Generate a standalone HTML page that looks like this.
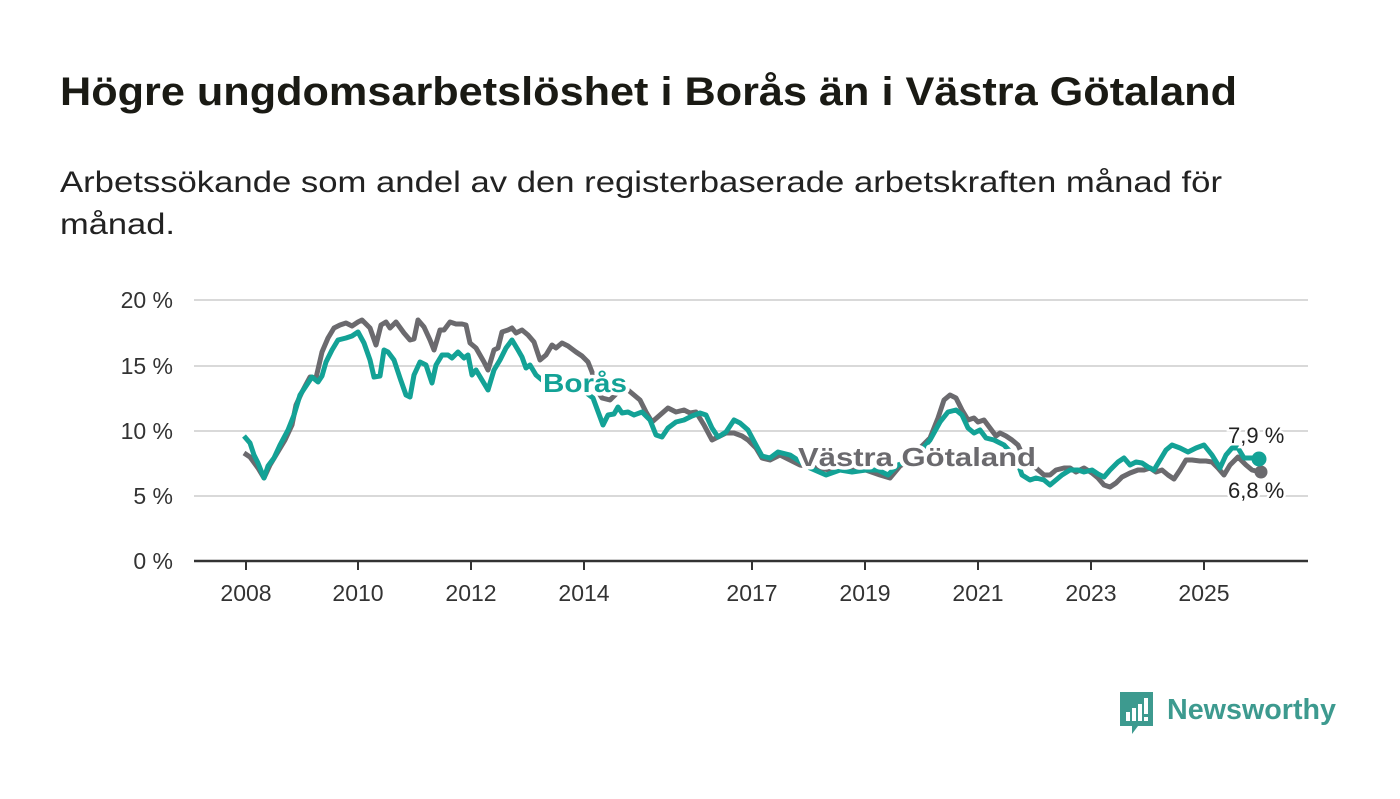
<!DOCTYPE html>
<html><head><meta charset="utf-8"><style>
body{margin:0;background:#fff;width:1400px;height:794px;overflow:hidden;font-family:"Liberation Sans",sans-serif}
</style></head><body>
<svg width="1400" height="794" xmlns="http://www.w3.org/2000/svg" font-family="Liberation Sans, sans-serif">
<text x="60" y="105" font-size="40" font-weight="bold" fill="#1a1a14" textLength="1177" lengthAdjust="spacingAndGlyphs">Högre ungdomsarbetslöshet i Borås än i Västra Götaland</text>
<text x="60" y="192" font-size="30" fill="#222" textLength="1162" lengthAdjust="spacingAndGlyphs">Arbetssökande som andel av den registerbaserade arbetskraften månad för</text>
<text x="60" y="234" font-size="30" fill="#222" textLength="115" lengthAdjust="spacingAndGlyphs">månad.</text>
<g stroke="#d9d9d9" stroke-width="2">
<line x1="194" y1="300" x2="1308" y2="300"/><line x1="194" y1="366" x2="1308" y2="366"/>
<line x1="194" y1="431" x2="1308" y2="431"/><line x1="194" y1="496" x2="1308" y2="496"/>
</g>
<line x1="194" y1="561" x2="1308" y2="561" stroke="#333" stroke-width="2.5"/>
<g font-size="23" fill="#333" text-anchor="end">
<text x="173" y="308">20 %</text><text x="173" y="374">15 %</text><text x="173" y="439">10 %</text><text x="173" y="504">5 %</text><text x="173" y="569">0 %</text>
</g>
<g stroke="#333" stroke-width="2">
<line x1="246" y1="561" x2="246" y2="570"/><line x1="358" y1="561" x2="358" y2="570"/><line x1="471" y1="561" x2="471" y2="570"/><line x1="584" y1="561" x2="584" y2="570"/><line x1="752" y1="561" x2="752" y2="570"/><line x1="865" y1="561" x2="865" y2="570"/><line x1="978" y1="561" x2="978" y2="570"/><line x1="1091" y1="561" x2="1091" y2="570"/><line x1="1204" y1="561" x2="1204" y2="570"/>
</g>
<g font-size="23" fill="#333" text-anchor="middle">
<text x="246" y="601">2008</text><text x="358" y="601">2010</text><text x="471" y="601">2012</text><text x="584" y="601">2014</text><text x="752" y="601">2017</text><text x="865" y="601">2019</text><text x="978" y="601">2021</text><text x="1091" y="601">2023</text><text x="1204" y="601">2025</text>
</g>
<polyline fill="none" stroke="#6b6a6e" stroke-width="5" stroke-linejoin="round" points="244,453 250,457 258,468 264,478 270,465 276,455 285,440 292,425 296,405 302,392 310,377 316,378 322,352 328,338 334,328 340,325 346,323 352,326 358,322 362,320 370,328 376,345 381,325 386,322 390,328 396,322 404,333 410,340 414,339 418,320 424,327 430,340 434,350 440,330 444,330 450,322 456,324 462,324 466,325 470,343 476,348 484,362 488,370 494,350 498,348 502,332 508,330 512,328 516,333 522,330 528,335 534,342 540,360 546,355 552,345 556,348 562,343 568,346 576,352 582,356 588,362 592,372 598,392 602,398 610,400 620,390 628,390 634,395 640,400 646,412 652,422 660,415 668,408 676,412 684,410 690,413 696,412 704,425 712,440 718,437 726,433 734,433 742,436 748,440 756,448 762,458 770,460 780,455 790,460 800,465 830,470 860,468 880,475 890,478 900,466 910,460 920,448 930,438 938,418 944,400 950,395 956,398 962,410 968,420 974,418 978,422 984,420 990,428 996,436 1000,433 1006,436 1012,440 1018,445 1024,458 1030,460 1036,468 1044,475 1050,475 1056,470 1064,468 1070,468 1076,472 1084,468 1092,473 1098,478 1104,485 1110,487 1116,483 1122,477 1130,473 1138,470 1144,470 1150,468 1156,472 1162,470 1168,475 1174,479 1180,470 1186,460 1192,460 1200,461 1206,461 1212,462 1218,468 1224,475 1230,465 1238,457 1246,465 1252,470 1260,472"/>
<polyline fill="none" stroke="#13a296" stroke-width="5" stroke-linejoin="round" points="244,436 250,443 254,455 258,463 264,478 268,466 274,458 280,445 288,430 294,415 300,395 306,386 312,377 318,382 322,376 326,362 332,350 338,340 346,338 352,336 358,332 364,343 370,360 374,377 380,376 384,350 388,352 394,360 400,378 406,395 410,397 414,375 420,362 426,365 432,383 436,365 442,355 448,355 452,358 458,352 464,358 468,355 472,375 476,370 482,380 488,390 494,370 500,360 506,348 512,340 518,350 522,357 526,368 530,365 536,375 542,380 560,382 580,388 593,398 603,425 608,415 614,414 618,407 622,413 628,412 634,415 642,412 650,420 656,435 662,437 668,428 676,422 684,420 692,416 700,413 706,415 712,428 718,437 726,432 734,420 740,423 748,430 756,445 762,456 770,458 778,452 790,455 810,468 826,475 840,470 852,472 866,470 878,470 888,475 898,465 915,458 930,440 940,422 948,412 956,410 962,415 968,428 974,433 980,430 986,438 994,440 1004,445 1016,458 1022,475 1030,480 1036,478 1044,480 1050,485 1056,480 1062,475 1070,470 1078,470 1084,472 1092,470 1098,474 1104,477 1110,470 1118,462 1124,458 1130,465 1136,462 1142,463 1148,467 1154,470 1160,460 1166,450 1172,445 1180,448 1188,452 1196,448 1204,445 1212,455 1220,468 1226,455 1232,448 1238,448 1244,458 1252,458 1259,460"/>
<circle cx="1261" cy="472" r="6.5" fill="#6b6a6e"/>
<circle cx="1259" cy="459" r="7.5" fill="#13a296"/>
<g font-weight="bold" font-size="26" stroke="#fff" stroke-width="7" paint-order="stroke" stroke-linejoin="round">
<text x="543" y="392" fill="#13a296" textLength="84" lengthAdjust="spacingAndGlyphs">Borås</text>
<text x="798" y="466" fill="#6b6a6e" textLength="238" lengthAdjust="spacingAndGlyphs">Västra Götaland</text>
</g>
<g font-size="22" fill="#222" stroke="#fff" stroke-width="5" paint-order="stroke">
<text x="1228" y="443">7,9 %</text>
<text x="1228" y="498">6,8 %</text>
</g>
<g transform="translate(1120,692)">
<path d="M0,0 H33 V34 H18 L12,42 L12,34 H0 Z" fill="#3d9a8f"/>
<rect x="6" y="20" width="4" height="9" fill="#fff"/><rect x="12" y="16" width="4" height="13" fill="#fff"/><rect x="18" y="12" width="4" height="17" fill="#fff"/><rect x="24" y="6" width="4" height="16" fill="#fff"/><rect x="24" y="25" width="4" height="4" fill="#fff"/>
</g>
<text x="1167" y="719" font-size="29" font-weight="bold" fill="#3d9a8f" textLength="169" lengthAdjust="spacingAndGlyphs">Newsworthy</text>
</svg>
</body></html>
